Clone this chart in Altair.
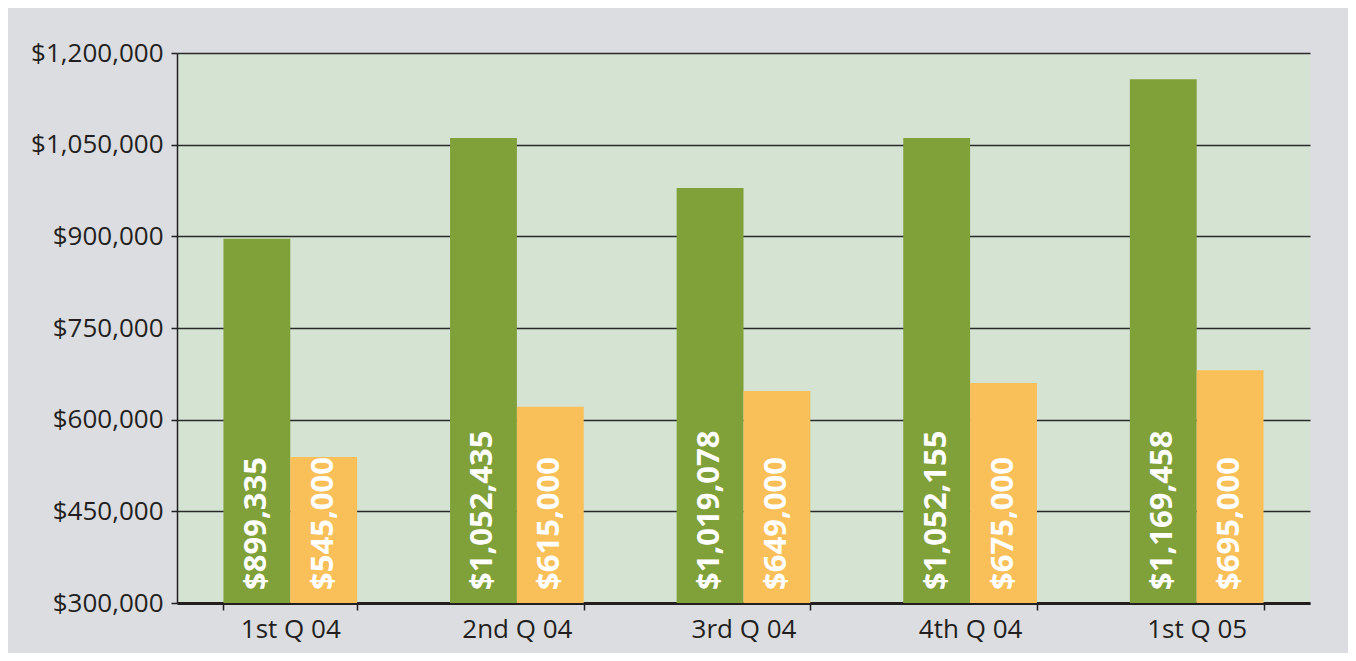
import altair as alt
import pandas as pd

quarters = ["1st Q 04", "2nd Q 04", "3rd Q 04", "4th Q 04", "1st Q 05"]
series = ["A", "B"]
green_values = [896000, 1061000, 979000, 1061000, 1157000]
orange_values = [539000, 621000, 647000, 660000, 681000]
green_labels = ["$899,335", "$1,052,435", "$1,019,078", "$1,052,155", "$1,169,458"]
orange_labels = ["$545,000", "$615,000", "$649,000", "$675,000", "$695,000"]
y_ticks = [300000, 450000, 600000, 750000, 900000, 1050000, 1200000]
y_min, y_max = 300000, 1200000

rows = []
for i, q in enumerate(quarters):
    rows.append({"quarter": q, "series": "A", "value": green_values[i], "label": green_labels[i]})
    rows.append({"quarter": q, "series": "B", "value": orange_values[i], "label": orange_labels[i]})
df = pd.DataFrame(rows)

FONT = "Open Sans"
TXT = "#231f20"

x_enc = alt.X(
    "quarter:N",
    sort=quarters,
    title=None,
    scale=alt.Scale(paddingInner=0.41, paddingOuter=0.205),
    axis=alt.Axis(
        labelAngle=0, tickBand="extent", labelFont=FONT, labelFontSize=26,
        labelColor=TXT, labelPadding=6, domainColor="#231f20", domainWidth=3,
        tickColor="#231f20", tickSize=7, tickWidth=1.5, grid=False,
    ),
)
y_scale = alt.Scale(domain=[y_min, y_max], nice=False, zero=False)

bars = alt.Chart(df).mark_bar().encode(
    x=x_enc,
    xOffset=alt.XOffset("series:N", sort=series),
    y=alt.Y(
        "value:Q", scale=y_scale, title=None,
        axis=alt.Axis(
            values=y_ticks, format="$,.0f", labelFont=FONT, labelFontSize=26,
            labelColor=TXT, labelPadding=8, domainColor="#231f20", domainWidth=1.5,
            tickColor="#231f20", tickSize=6, tickWidth=1.5,
            grid=True, gridColor="#2a2a2a", gridWidth=1.5,
        ),
    ),
    y2=alt.datum(y_min),
    color=alt.Color("series:N", scale=alt.Scale(domain=series, range=["#80a03a", "#f9c05a"]), legend=None),
)

texts = alt.Chart(df).mark_text(
    angle=270, align="left", baseline="middle", dx=13,
    font=FONT, fontSize=31, fontWeight="bold", color="white",
).encode(
    x=alt.X("quarter:N", sort=quarters),
    xOffset=alt.XOffset("series:N", sort=series),
    y=alt.datum(y_min),
    text="label:N",
)

chart = alt.layer(bars, texts).properties(
    width=1133, height=550,
    background="#dcdde0",
    padding={"left": 169, "top": 45, "right": 38, "bottom": 50},
    autosize=alt.AutoSizeParams(type="none"),
).configure_view(fill="#d5e3d3", stroke=None)

chart.save("out.html", embed_options={"renderer": "svg", "actions": False})
